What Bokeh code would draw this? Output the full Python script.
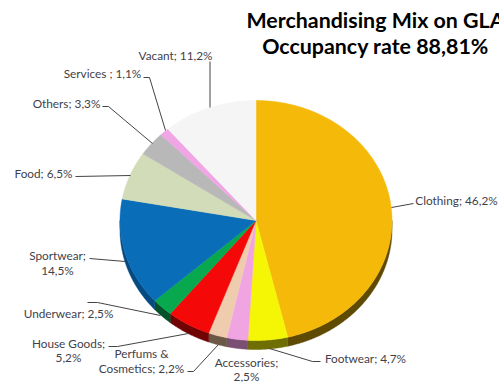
from bokeh.core.properties import value
from bokeh.embed import file_html
from bokeh.plotting import figure
from bokeh.resources import INLINE
import numpy as np

categories = ["Clothing", "Footwear", "Accessories", "Perfums & Cosmetics", "House Goods",
              "Underwear", "Sportwear", "Food", "Others", "Services", "Vacant"]
shares = [46.2, 4.7, 2.5, 2.2, 5.2, 2.5, 14.5, 6.5, 3.3, 1.1, 11.2]
top_colors = ["#F5B90A", "#F5F506", "#F0A5E2", "#F0CCAE", "#F50808", "#08A84E",
              "#0A6DB8", "#D2DCB8", "#B8B8B8", "#F0A5E5", "#F5F5F5"]
wall_colors = ["#5F4A04", "#6E6E02", "#7A4F72", "#6B5846", "#700303", "#045028",
               "#054A80", "#8A917A", "#777777", "#9A6C95", "#AAAAAA"]
title_lines = ["Merchandising Mix on GLA", "Occupancy rate 88,81%"]

# text, x, y, horizontal alignment
labels = [
    ("Vacant; 11,2%", 175, 55, "center"),
    ("Services ; 1,1%", 102, 73, "center"),
    ("Others; 3,3%", 66, 103, "center"),
    ("Food; 6,5%", 43, 173, "center"),
    ("Sportwear;", 57, 255, "center"),
    ("14,5%", 57, 270, "center"),
    ("Underwear; 2,5%", 68, 313, "center"),
    ("House Goods;", 68, 343, "center"),
    ("5,2%", 68, 357, "center"),
    ("Perfums &", 141, 353, "center"),
    ("Cosmetics; 2,2%", 141, 368, "center"),
    ("Accessories;", 246, 362, "center"),
    ("2,5%", 246, 375.5, "center"),
    ("Footwear; 4,7%", 365, 358, "center"),
    ("Clothing; 46,2%", 456, 200, "center"),
]

leaders = [
    ([209.5, 209.5], [61, 107]),
    ([143, 149, 165], [77, 77, 130]),
    ([102, 108, 152], [106, 106, 143]),
    ([75, 130], [176, 175]),
    ([89, 125], [258, 261]),
    ([87, 97, 160], [302, 302, 315]),
    ([108, 117, 188], [346, 346, 333]),
    ([187, 193, 218], [371, 371, 344]),
    ([320, 312, 269], [361, 361, 348]),
    ([413, 391], [203, 207]),
]

CX, CY, RX, RY, DEPTH = 255.5, 220, 136, 120, 9

p = figure(width=499, height=382, x_range=(0, 499), y_range=(382, 0),
           output_backend="svg", toolbar_location=None, min_border=0)
p.axis.visible = False
p.grid.visible = False
p.outline_line_color = None
p.background_fill_color = "white"
p.border_fill_color = "white"


def rim(start, stop):
    """Points on the tilted rim, angles clockwise from twelve o'clock."""
    steps = max(2, int(abs(stop - start) * 120) + 2)
    a = np.linspace(start, stop, steps)
    return CX + RX * np.sin(a), CY - RY * np.cos(a)


edges = np.cumsum([0.0] + shares) / sum(shares) * 2 * np.pi

# Side wall: only the part of each slice that faces the viewer
for i in range(len(shares)):
    lo, hi = max(edges[i], np.pi / 2), min(edges[i + 1], 3 * np.pi / 2)
    if hi > lo:
        x, y = rim(lo, hi)
        p.patch(np.r_[x, x[::-1]], np.r_[y, y[::-1] + DEPTH],
                fill_color=wall_colors[i], line_color=wall_colors[i], line_width=0.5)

# Top face
for i in range(len(shares)):
    x, y = rim(edges[i], edges[i + 1])
    p.patch(np.r_[CX, x], np.r_[CY, y], fill_color=top_colors[i],
            line_color=top_colors[i], line_width=0.5)

for xs, ys in leaders:
    p.line(xs, ys, line_color="#444444", line_width=1)

for text, x, y, align in labels:
    p.text([x], [y], text=[text], text_font=value("Lato"), text_font_size="11.8px",
           text_color="#3F3F4A", text_align=align, text_baseline="middle")

for line, y in zip(title_lines, [19, 45]):
    p.text([375], [y], text=[line], text_font=value("Lato"), text_font_size="21.4px",
           text_font_style="bold", text_color="#000000", text_align="center",
           text_baseline="middle")

open("out.html", "w").write(file_html(p, INLINE))
